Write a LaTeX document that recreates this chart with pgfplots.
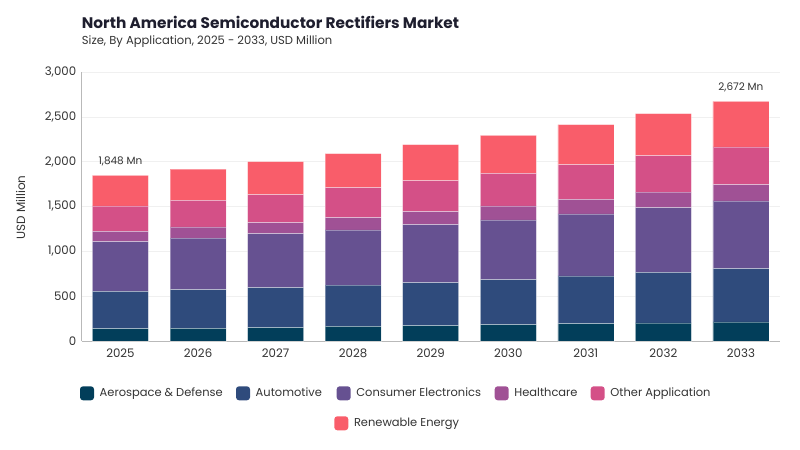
\documentclass[border=0pt]{standalone}
\usepackage{fontspec}
\setmainfont{Poppins}
\usepackage{pgfplots}
\usepackage{pgfplotstable}
\pgfplotsset{compat=1.18}
\definecolor{cA}{HTML}{023E5A}
\definecolor{cB}{HTML}{2F4B7C}
\definecolor{cC}{HTML}{665191}
\definecolor{cD}{HTML}{A05195}
\definecolor{cE}{HTML}{D45087}
\definecolor{cF}{HTML}{F95D6A}
\definecolor{txt}{HTML}{333333}
\definecolor{ttl}{HTML}{1E1E2E}
\pgfplotstableread{
x aero auto ce hc other ren
0 137 417 553 116 285 340
1 141 431 576 126 294 350
2 149 446 601 123 313 368
3 163 461 614 137 335 379
4 171 479 647 145 346 401
5 182 501 669 156 361 423
6 193 532 694 161 386 446
7 201 565 720 175 405 471
8 212 594 758 179 423 506
}\data
\begin{document}
\begin{tikzpicture}[x=1bp,y=1bp]
\path[use as bounding box] (0,0) rectangle (800,450);
\node[anchor=base west,text=ttl,inner sep=0] at (81.7,421.7) {\fontsize{15.4}{18}\selectfont\bfseries North America Semiconductor Rectifiers Market};
\node[anchor=base west,text=txt,inner sep=0] at (81.7,405) {\fontsize{11.6}{13}\selectfont Size, By Application, 2025 - 2033, USD Million};
\node[rotate=90,text=txt,inner sep=0] at (20.7,242.5) {\fontsize{12}{14}\selectfont USD Million};
\begin{axis}[
  at={(81.7bp,109bp)}, anchor=south west,
  scale only axis, width=698bp, height=269bp,
  xmin=-0.5, xmax=8.5, ymin=0, ymax=3000,
  ybar stacked, bar width=56bp,
  axis x line*=bottom, axis y line*=left,
  axis line style={draw=gray!55, line width=0.8pt},
  xtick={0,...,8},
  xticklabels={2025,2026,2027,2028,2029,2030,2031,2032,2033},
  ytick={0,500,1000,1500,2000,2500,3000},
  major tick length=0pt,
  ymajorgrids, grid style={draw=gray!12, line width=0.6pt},
  /pgf/number format/assume math mode=true,
  /pgf/number format/1000 sep={,},
  scaled y ticks=false,
  tick label style={font=\fontsize{11.8}{13}\selectfont, text=txt},
  yticklabel style={xshift=-2bp},
  xticklabel style={yshift=-4bp},
  every axis plot/.append style={draw=white, draw opacity=0.35, line width=0.5bp},
  clip=false,
]
\addplot[fill=cA] table[x=x,y=aero] {\data};
\addplot[fill=cB] table[x=x,y=auto] {\data};
\addplot[fill=cC] table[x=x,y=ce] {\data};
\addplot[fill=cD] table[x=x,y=hc] {\data};
\addplot[fill=cE] table[x=x,y=other] {\data};
\addplot[fill=cF] table[x=x,y=ren] {\data};
\node[anchor=south,text=txt,font=\fontsize{10.5}{12}\selectfont] at (axis cs:0,1848) [yshift=6bp] {1,848 Mn};
\node[anchor=south,text=txt,font=\fontsize{10.5}{12}\selectfont] at (axis cs:8,2672) [yshift=6bp] {2,672 Mn};
\end{axis}
% legend
\foreach \cx/\cy/\col/\lab in {
  87/56.7/cA/{Aerospace \& Defense},
  243/56.7/cB/{Automotive},
  343.7/56.7/cC/{Consumer Electronics},
  501.7/56.7/cD/{Healthcare},
  597.7/56.7/cE/{Other Application},
  341.3/26.7/cF/{Renewable Energy}} {
  \fill[\col, rounded corners=3bp] (\cx-7,\cy-7) rectangle (\cx+7,\cy+7);
  \node[anchor=mid west,inner sep=0,text=txt,font=\fontsize{11.5}{13}\selectfont] at (\cx+12.5,\cy-0.8) {\lab};
}
\end{tikzpicture}
\end{document}
